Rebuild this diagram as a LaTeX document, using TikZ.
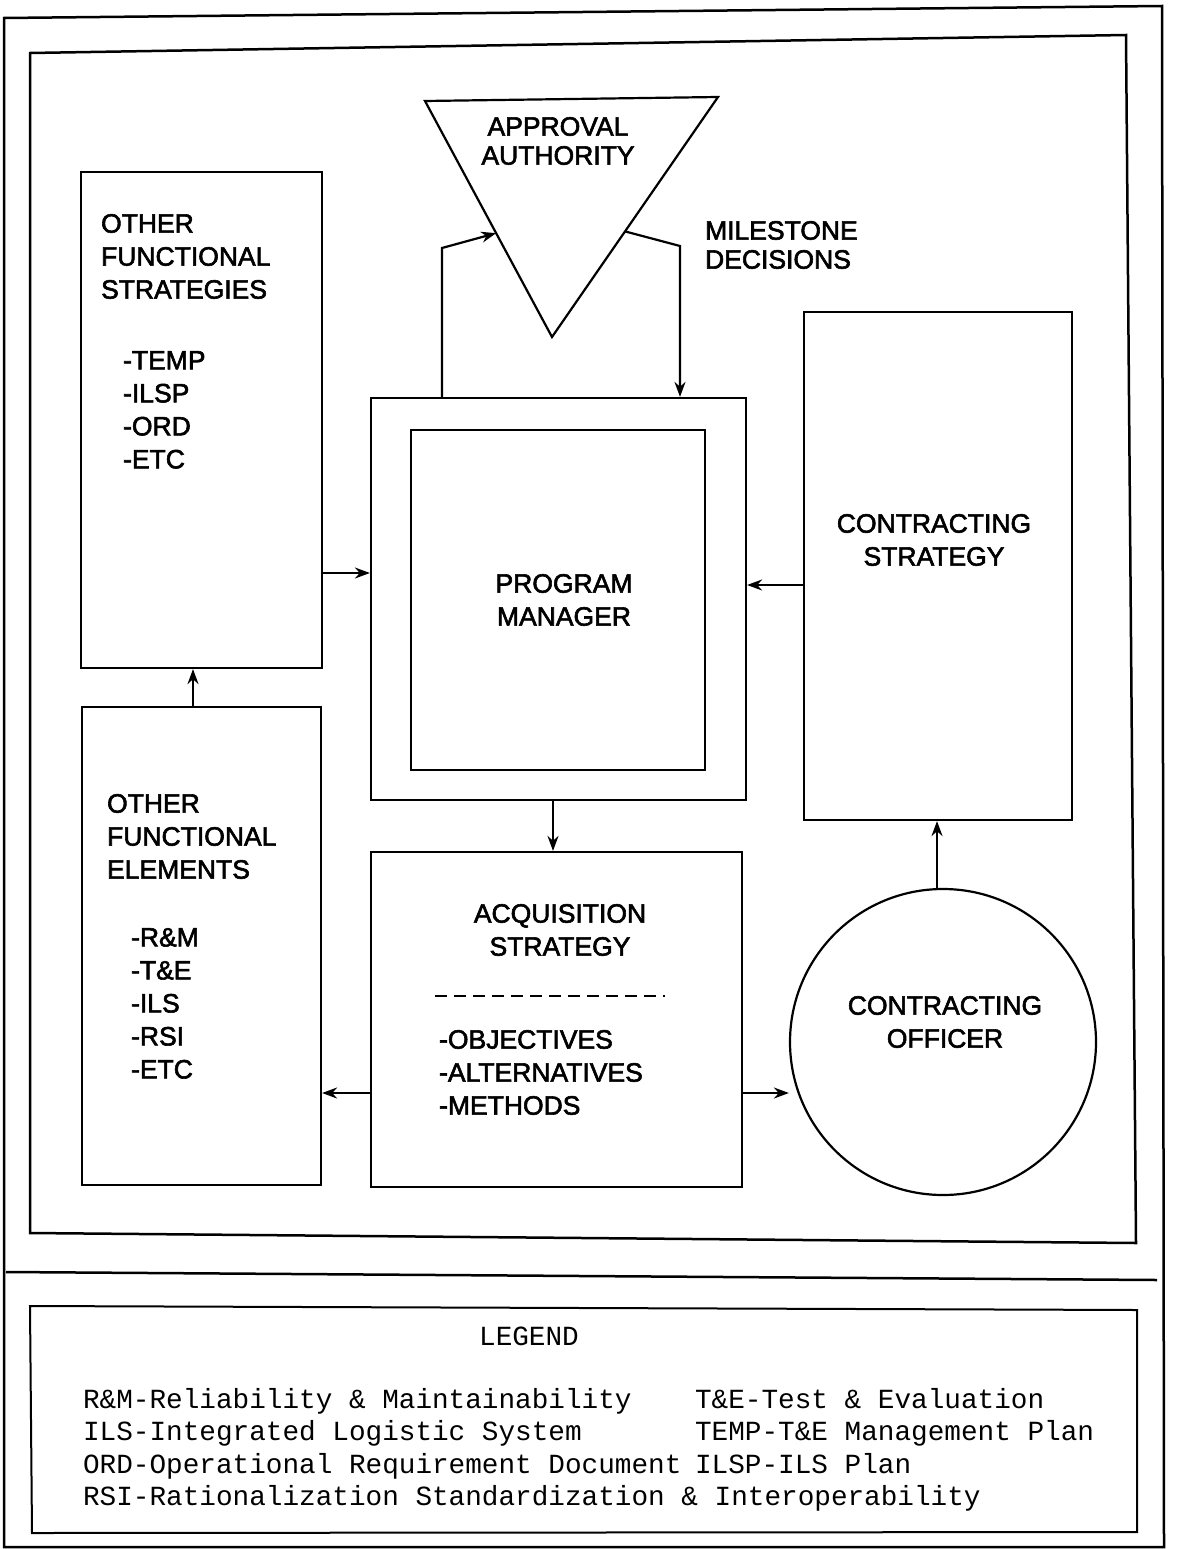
\documentclass[tikz,border=0pt]{standalone}
\usepackage{fontspec}
\setmainfont{Liberation Sans}[FakeBold=2.2]
\newfontfamily\legendfont{Liberation Mono}
\usetikzlibrary{arrows.meta,calc}
\begin{document}
\begin{tikzpicture}[x=1pt,y=-1pt,
  line width=2.2pt,
  box/.style={draw, rectangle, inner sep=0pt},
  lbl/.style={font=\fontsize{26.5}{33}\selectfont, align=left, inner sep=0pt},
  lbc/.style={font=\fontsize{26.5}{33}\selectfont, align=center, inner sep=0pt},
  leg/.style={font=\legendfont\fontsize{27.7}{32.5}\selectfont, inner sep=0pt, anchor=base west},
  arr/.style={-{Stealth[length=15pt,width=11pt]}}
]
\useasboundingbox (0,0) rectangle (1177,1549);
\fill[white] (0,0) rectangle (1177,1549);
% frames
\draw[line width=2.5pt] (4,18) -- (1162,6) -- (1164,1547) -- (4,1547) -- cycle;
\draw[line width=2.5pt] (30,53) -- (1126,35) -- (1136,1243) -- (30,1233) -- cycle;
\draw[line width=2.5pt] (6,1272) -- (1157,1280);
\draw[line width=2pt] (30,1306) -- (1137,1310) -- (1137,1532) -- (32,1533) -- cycle;

% legend
\node[font=\legendfont\fontsize{27.7}{32.5}\selectfont, inner sep=0pt] (legt) at (529,1336) {LEGEND};
\node[leg] (l1) at (82,1408) {R\&M-Reliability \& Maintainability};
\node[leg] (l2) at (82,1440) {ILS-Integrated Logistic System};
\node[leg] (l3) at (82,1473) {ORD-Operational Requirement Document};
\node[leg] (l4) at (82,1505) {RSI-Rationalization Standardization \& Interoperability};
\node[leg] (r1) at (694,1408) {T\&E-Test \& Evaluation};
\node[leg] (r2) at (694,1440) {TEMP-T\&E Management Plan};
\node[leg] (r3) at (694,1473) {ILSP-ILS Plan};

% triangle
\coordinate (tl) at (425,101);
\coordinate (tr) at (718,97);
\coordinate (tb) at (552,337);
\draw (tl) -- (tr) -- (tb) -- cycle;
\node[lbc, font=\fontsize{26.5}{29}\selectfont] (appr) at (558,141) {APPROVAL\\AUTHORITY};
\node[lbl, anchor=north west, font=\fontsize{26.5}{29}\selectfont] (mile) at (704,220) {MILESTONE\\DECISIONS};

% boxes
\node[box, minimum width=241, minimum height=496] (ofs) at (201.5,420) {};
\node[lbl, anchor=north west] (ofst) at (100,213) {OTHER\\FUNCTIONAL\\STRATEGIES};
\node[lbl, anchor=north west] (ofsi) at (122,350) {-TEMP\\-ILSP\\-ORD\\-ETC};

\node[box, minimum width=375, minimum height=402] (pmo) at (558.5,599) {};
\node[box, minimum width=294, minimum height=340] (pmi) at (558,600) {};
\node[lbc] (pmt) at (564,600) {PROGRAM\\MANAGER};

\node[box, minimum width=268, minimum height=508] (cs) at (938,566) {};
\node[lbc] (cst) at (934,540) {CONTRACTING\\STRATEGY};

\node[box, minimum width=239, minimum height=478] (ofe) at (201.5,946) {};
\node[lbl, anchor=north west] (ofet) at (106,793) {OTHER\\FUNCTIONAL\\ELEMENTS};
\node[lbl, anchor=north west] (ofei) at (130,927) {-R\&M\\-T\&E\\-ILS\\-RSI\\-ETC};

\node[box, minimum width=371, minimum height=335] (as) at (556.5,1019.5) {};
\node[lbc] (ast) at (560,930) {ACQUISITION\\STRATEGY};
\draw[dashed, dash pattern=on 12pt off 7pt, line width=2pt] (435,996) -- (665,996);
\node[lbl, anchor=north west] (asi) at (438,1029) {-OBJECTIVES\\-ALTERNATIVES\\-METHODS};

\node[draw, circle, minimum size=306, inner sep=0pt] (co) at (943,1042) {};
\node[lbc] (cot) at (945,1022) {CONTRACTING\\OFFICER};

% connectors
\draw[arr] (ofs.east |- 0,573) -- (pmo.west |- 0,573);
\draw[arr] (ofe.north -| 193,0) -- (ofs.south -| 193,0);
\draw[arr] (pmo.south -| 553,0) -- (as.north -| 553,0);
\draw[arr] (as.west |- 0,1093) -- (ofe.east |- 0,1093);
\draw[arr] (as.east |- 0,1093) -- (co.west |- 0,1093);
\draw[arr] (co.north -| 937,0) -- (cs.south -| 937,0);
\draw[arr] (cs.west |- 0,585) -- (pmo.east |- 0,585);
\coordinate (la) at ($(tl)!0.56!(tb)$);
\draw[arr] (pmo.north -| 442,0) -- (442,248) -- (la);
\coordinate (ra) at ($(tr)!0.56!(tb)$);
\draw[arr] (ra) -- (680,246) -- (pmo.north -| 680,0);
\end{tikzpicture}
\end{document}
